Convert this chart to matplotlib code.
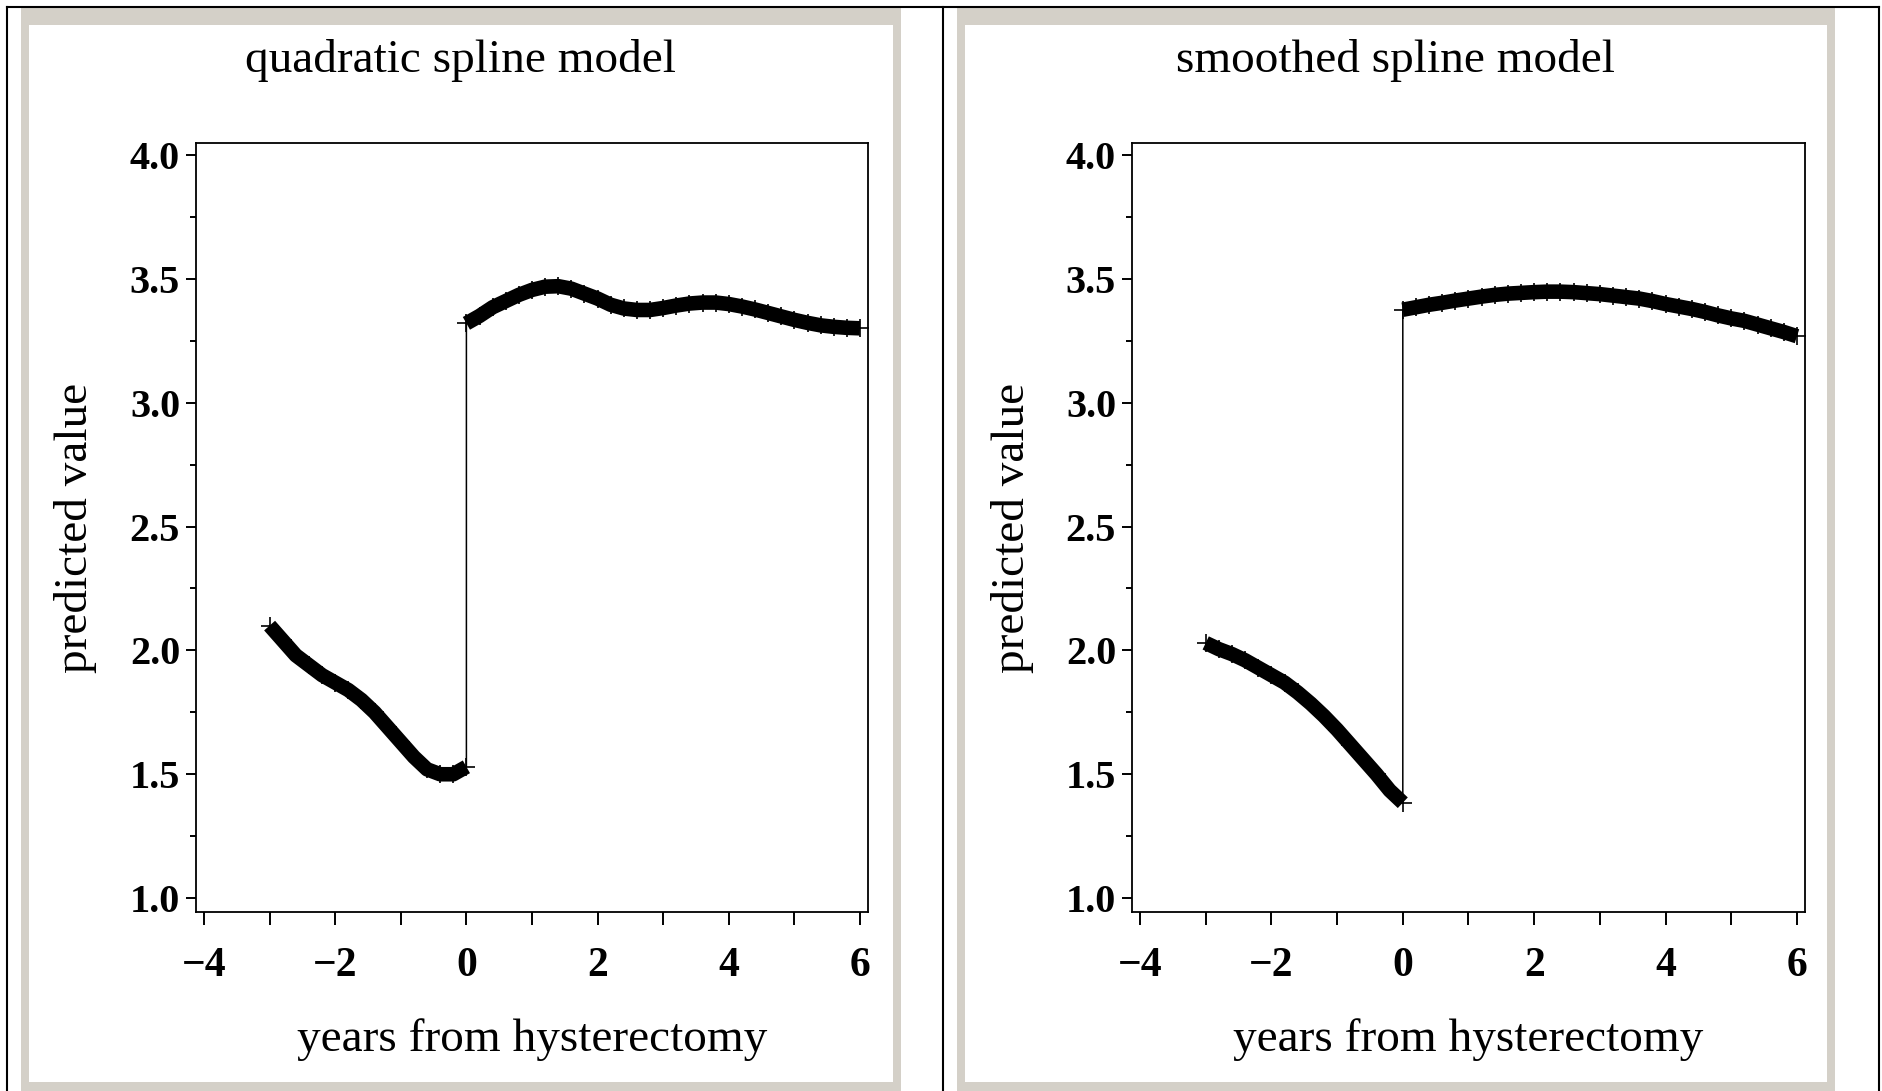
import numpy as np
import matplotlib
matplotlib.use("Agg")
import matplotlib.pyplot as plt
from matplotlib.patches import Rectangle
from matplotlib.lines import Line2D

plt.rcParams['font.family'] = ['Liberation Serif', 'DejaVu Serif']

# predicted values, before and after surgery (years from hysterectomy)
pre_years = [-3.0, -2.8, -2.6, -2.4, -2.2, -2.0, -1.8, -1.6, -1.4, -1.2,
             -1.0, -0.8, -0.6, -0.4, -0.2, 0.0]
post_years = [0.0, 0.2, 0.4, 0.6, 0.8, 1.0, 1.2, 1.4, 1.6, 1.8, 2.0,
              2.2, 2.4, 2.6, 2.8, 3.0, 3.2, 3.4, 3.6, 3.8, 4.0,
              4.2, 4.4, 4.6, 4.8, 5.0, 5.2, 5.4, 5.6, 5.8, 6.0]

quad_pre = [2.10, 2.04, 1.98, 1.94, 1.90, 1.87, 1.84, 1.80, 1.75, 1.69,
            1.63, 1.57, 1.52, 1.50, 1.50, 1.53]
quad_post = [3.32, 3.35, 3.385, 3.41, 3.435, 3.455, 3.468, 3.470, 3.460, 3.44, 3.42,
             3.395, 3.38, 3.374, 3.374, 3.382, 3.392, 3.40, 3.404, 3.404, 3.398,
             3.388, 3.376, 3.362, 3.348, 3.334, 3.322, 3.312, 3.306, 3.302, 3.30]

smooth_pre = [2.03, 2.005, 1.985, 1.96, 1.93, 1.90, 1.87, 1.83, 1.785, 1.735,
              1.68, 1.62, 1.56, 1.50, 1.435, 1.385]
smooth_post = [3.375, 3.385, 3.395, 3.403, 3.412, 3.42, 3.428, 3.435, 3.44, 3.443, 3.446,
               3.448, 3.448, 3.446, 3.442, 3.438, 3.432, 3.426, 3.42, 3.41, 3.398,
               3.388, 3.378, 3.366, 3.352, 3.34, 3.33, 3.315, 3.30, 3.285, 3.268]

titles = ["quadratic spline model", "smoothed spline model"]
xticks = [-4, -2, 0, 2, 4, 6]
xminor = [-3, -1, 1, 3, 5]
yticks = [1.0, 1.5, 2.0, 2.5, 3.0, 3.5, 4.0]
yticklabels = ["1.0", "1.5", "2.0", "2.5", "3.0", "3.5", "4.0"]
yminor = [1.25, 1.75, 2.25, 2.75, 3.25, 3.75]

W, H = 1883, 1091
fig = plt.figure(figsize=(W / 100, H / 100), dpi=100)


def fx(px):
    return px / W


def fy(py):
    return 1 - py / H


gray = '#d4d0c8'
panels = [(21, 901), (957, 1835)]
for left, right in panels:
    fig.add_artist(Rectangle((fx(left), 0), fx(right - left), fy(8),
                             transform=fig.transFigure, facecolor=gray,
                             edgecolor='none', zorder=-10))
    fig.add_artist(Rectangle((fx(left + 8), fy(1082)), fx(right - left - 16), (1082 - 25) / H,
                             transform=fig.transFigure, facecolor='white',
                             edgecolor='none', zorder=-9))

# outer table lines
for xs, ys in [([7, 1879], [7, 7]), ([7, 7], [7, H]), ([943, 943], [7, H]),
               ([1879, 1879], [7, H])]:
    fig.add_artist(Line2D([fx(v) for v in xs], [fy(v) for v in ys],
                          transform=fig.transFigure, color='black', lw=1.5, zorder=-5))

axes_px = [(196, 868), (1132, 1805)]
series = [(quad_pre, quad_post), (smooth_pre, smooth_post)]

for (l, r), (pre, post), title, (pl, pr) in zip(axes_px, series, titles, panels):
    ax = fig.add_axes([fx(l), fy(912), (r - l) / W, (912 - 143) / H])
    ax.set_xlim(-4.122, 6.122)
    ax.set_ylim(0.944, 4.048)

    xs = pre_years + post_years
    ys = pre + post
    ax.plot(xs, ys, color='black', lw=1.1, zorder=3)
    ax.plot(pre_years, pre, color='black', lw=10.5, solid_capstyle='butt', zorder=3)
    ax.plot(post_years, post, color='black', lw=10.5, solid_capstyle='butt', zorder=3)
    ax.plot(xs, ys, linestyle='none', marker='+', ms=13.5, mew=1.2,
            color='black', zorder=4)

    ax.set_xticks(xticks)
    ax.set_xticklabels([str(v).replace('-', '\u2212') for v in xticks],
                       fontweight='bold', fontsize=30)
    ax.set_xticks(xminor, minor=True)
    ax.set_yticks(yticks)
    ax.set_yticklabels(yticklabels, fontweight='bold', fontsize=29)
    ax.set_yticks(yminor, minor=True)

    ax.tick_params(axis='y', which='major', direction='out', length=7.2, width=1.4, pad=4.3)
    ax.tick_params(axis='y', which='minor', direction='out', length=4.3, width=1.4)
    ax.tick_params(axis='x', which='both', direction='out', length=9.4, width=1.4, pad=16)
    for s in ax.spines.values():
        s.set_linewidth(1.3)

    fig.text(fx((pl + pr) / 2), fy(60), title, ha='center', va='center', fontsize=34)
    fig.text(fx(l - 120), fy(528), "predicted value", ha='center', va='center',
             rotation=90, fontsize=34)
    fig.text(fx((l + r) / 2), fy(1040), "years from hysterectomy", ha='center',
             va='center', fontsize=34)

fig.savefig("out.png", dpi=100)
